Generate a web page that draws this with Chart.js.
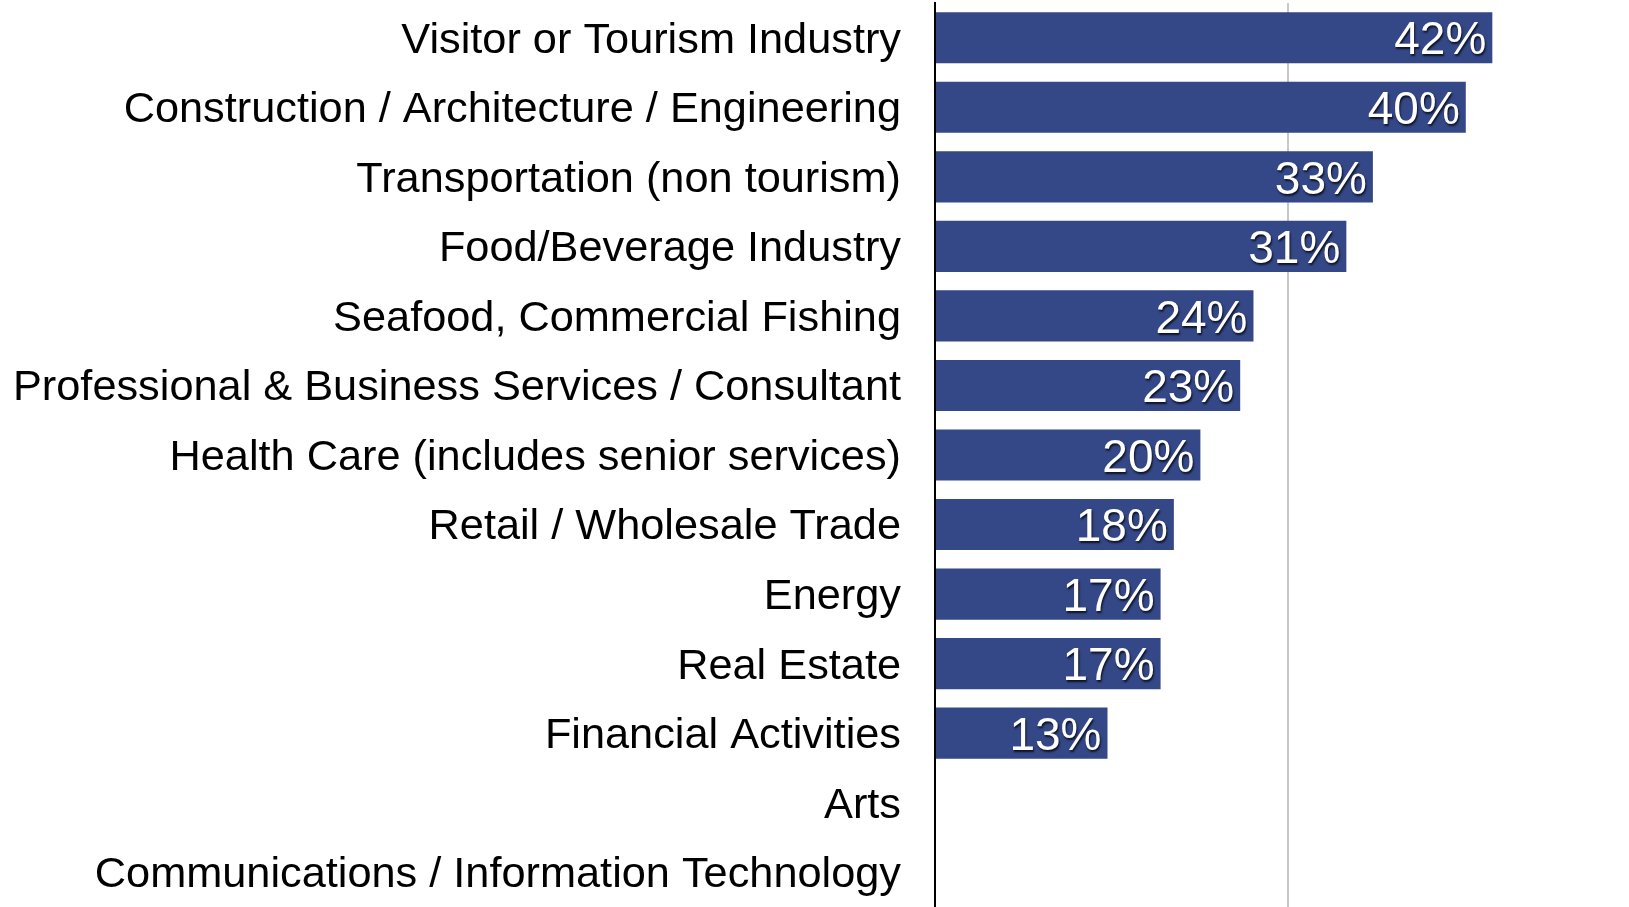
<!DOCTYPE html>
<html>
<head>
<meta charset="utf-8">
<script src="https://cdn.jsdelivr.net/npm/chart.js@4/dist/chart.umd.min.js"></script>
<style>
  html, body { margin: 0; padding: 0; background: #fff; }
  #wrap { width: 1629px; height: 907px; position: relative; }
</style>
</head>
<body>
<div id="wrap"><canvas id="myChart"></canvas></div>
<script>
const industries = [
  'Visitor or Tourism Industry',
  'Construction / Architecture / Engineering',
  'Transportation (non tourism)',
  'Food/Beverage Industry',
  'Seafood, Commercial Fishing',
  'Professional & Business Services / Consultant',
  'Health Care (includes senior services)',
  'Retail / Wholesale Trade',
  'Energy',
  'Real Estate',
  'Financial Activities',
  'Arts',
  'Communications / Information Technology'
]
const shares = [42, 40, 33, 31, 24, 23, 20, 18, 17, 17, 13, 0, 0]
const gridValues = [0, 26.6]
const axisMax = 52.3

// white % labels with a soft dark shadow, right aligned inside the bar
const barLabels = {
  id: 'barLabels',
  afterDatasetsDraw(chart) {
    const ctx = chart.ctx
    const meta = chart.getDatasetMeta(0)
    ctx.save()
    ctx.font = '46px "Liberation Sans", Arial, sans-serif'
    ctx.textAlign = 'right'
    ctx.textBaseline = 'middle'
    ctx.fillStyle = '#ffffff'
    ctx.shadowColor = 'rgba(0, 0, 0, 0.75)'
    ctx.shadowOffsetX = 1
    ctx.shadowOffsetY = 2
    ctx.shadowBlur = 2
    meta.data.forEach((bar, i) => {
      const v = shares[i]
      if (!v) return
      ctx.fillText(v + '%', bar.x - 6, bar.y + 4)
    })
    ctx.restore()
  }
}

const ctx = document.querySelector('#myChart')
new Chart(ctx, {
  type: 'bar',
  data: {
    labels: industries,
    datasets: [{
      data: shares,
      backgroundColor: '#344786',
      borderWidth: 0,
      barPercentage: 0.735,
      categoryPercentage: 1
    }]
  },
  options: {
    indexAxis: 'y',
    responsive: true,
    maintainAspectRatio: false,
    animation: false,
    layout: { padding: { top: 3, right: 0, bottom: 0, left: 0 } },
    plugins: {
      legend: { display: false },
      tooltip: { enabled: false }
    },
    scales: {
      x: {
        min: 0,
        max: axisMax,
        afterBuildTicks: (scale) => {
          scale.ticks = gridValues.map((v) => ({ value: v }))
        },
        ticks: { display: false },
        grid: {
          drawTicks: false,
          lineWidth: 2,
          color: (c) => (c.tick && c.tick.value === 0 ? 'rgba(0,0,0,0)' : '#c9c9c9')
        },
        border: { display: false }
      },
      y: {
        afterFit: (scale) => {
          scale.width = 935
          // labels sit inside their bands, no extra room needed above/below
          scale.paddingTop = 0
          scale.paddingBottom = 0
        },
        ticks: {
          padding: 34,
          labelOffset: 3,
          color: '#000000',
          font: { family: '"Liberation Sans", Arial, sans-serif', size: 43.3 }
        },
        grid: { display: false, drawTicks: false },
        border: { display: true, color: '#000000', width: 2 }
      }
    }
  },
  plugins: [barLabels]
})
</script>
</body>
</html>
